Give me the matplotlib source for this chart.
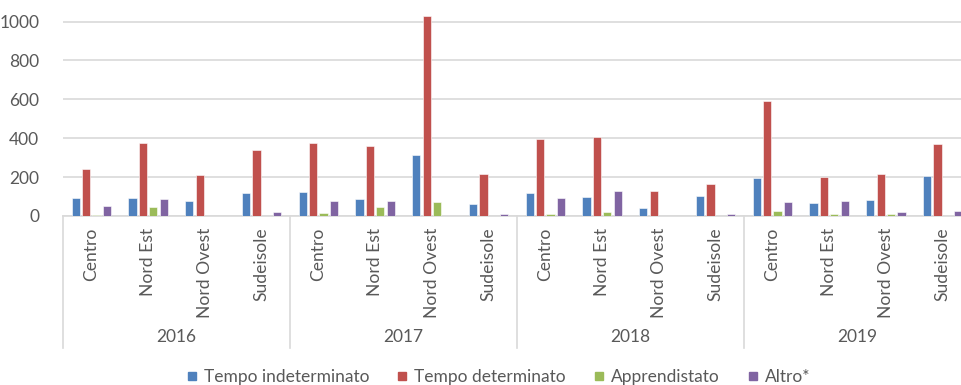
import matplotlib.pyplot as plt
from matplotlib.lines import Line2D
import matplotlib.transforms as mtransforms
import numpy as np

plt.rcParams['font.family'] = ['Lato', 'DejaVu Sans']

years = ['2016', '2017', '2018', '2019']
regions = ['Centro', 'Nord Est', 'Nord Ovest', 'Sudeisole']
series_names = ['Tempo indeterminato', 'Tempo determinato', 'Apprendistato', 'Altro*']
colors = ['#4F81BD', '#C0504D', '#9BBB59', '#8064A2']

indeterminato = [91, 94, 79, 118, 123, 86, 314, 60, 118, 99, 41, 103, 194, 65, 82, 207]
determinato = [242, 374, 209, 340, 377, 360, 1031, 216, 398, 405, 127, 163, 590, 201, 216, 370]
apprendistato = [3, 45, 1, 2, 15, 45, 74, 0, 12, 21, 1, 2, 24, 10, 10, 2]
altro = [50, 87, 0, 21, 79, 77, 0, 12, 94, 129, 0, 10, 72, 75, 21, 26]
values = [indeterminato, determinato, apprendistato, altro]

grey = '#595959'
line_grey = '#D9D9D9'
fs = 12.5

fig = plt.figure(figsize=(9.61, 3.85), dpi=100)
# plot area runs past the right edge of the image, as in the original crop
ax = fig.add_axes([63 / 961, 169 / 385, 908 / 961, 216 / 385])

n_cat = len(years) * len(regions)
x = np.arange(n_cat) + 0.5
pitch = 0.183
width = 0.146
for k, (vals, col) in enumerate(zip(values, colors)):
    ax.bar(x + (k - 1.5) * pitch, vals, width=width, color=col,
           edgecolor='white', linewidth=0.4, zorder=3)

ax.set_xlim(0, n_cat)
ax.set_ylim(0, 1111)
ax.set_yticks(range(0, 1001, 200))
ax.yaxis.grid(True, color=line_grey, linewidth=1.2)
ax.set_axisbelow(True)
for s in ['top', 'right', 'left']:
    ax.spines[s].set_visible(False)
ax.spines['bottom'].set_color(line_grey)
ax.spines['bottom'].set_linewidth(1.2)
ax.tick_params(axis='y', length=0, pad=17, labelsize=fs, labelcolor=grey)
ax.tick_params(axis='x', length=0, pad=8.5, labelsize=12.6, labelcolor=grey)

ax.set_xticks(x)
ax.set_xticklabels(regions * len(years), rotation=90, va='top', ha='center')

# year level of the category axis
trans = mtransforms.blended_transform_factory(ax.transData, ax.transAxes)
for g in range(len(years) + 1):
    xs = g * len(regions)
    ax.plot([xs, xs], [0, -0.611], transform=trans, color=line_grey,
            linewidth=1.2, clip_on=False)
for g, yr in enumerate(years):
    ax.text(g * len(regions) + len(regions) / 2, -0.56, yr, transform=trans,
            ha='center', va='center', fontsize=fs, color=grey)

handles = [Line2D([], [], marker='s', linestyle='none', markersize=5.5,
                  markerfacecolor=c, markeredgecolor=c) for c in colors]
fig.legend(handles, series_names, loc='center', bbox_to_anchor=(0.5177, 0.021),
           ncol=4, frameon=False, fontsize=fs, labelcolor=grey,
           handletextpad=0.3, columnspacing=1.5, handlelength=0.8)

fig.savefig('out.png', dpi=100)
